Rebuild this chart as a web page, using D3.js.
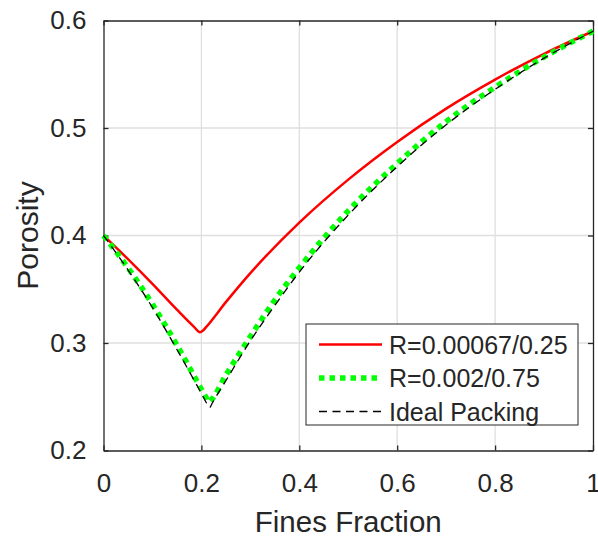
<!DOCTYPE html>
<html>
<head>
<meta charset="utf-8">
<script src="https://cdn.jsdelivr.net/npm/d3@7"></script>
<style>
  body { margin: 0; background: #fff; }
  svg { display: block; font-family: "Liberation Sans", Arial, Helvetica, sans-serif; }
</style>
</head>
<body>
<svg id="chart" width="598" height="537"></svg>
<script>
// values
const xTicks = [0, 0.2, 0.4, 0.6, 0.8, 1];
const yTicks = [0.2, 0.3, 0.4, 0.5, 0.6];

const redFines = [0, 0.05, 0.1, 0.15, 0.185, 0.197, 0.203, 0.21, 0.25, 0.3, 0.4, 0.5, 0.6, 0.7, 0.8, 0.9, 1];
const redPorosity = [0.400, 0.378, 0.355, 0.331, 0.315, 0.310, 0.3115, 0.315, 0.338, 0.365, 0.412, 0.452, 0.487, 0.518, 0.545, 0.569, 0.590];

const greenFines = [0, 0.05, 0.1, 0.15, 0.2, 0.21, 0.215, 0.222, 0.25, 0.3, 0.35, 0.4, 0.5, 0.6, 0.7, 0.8, 0.9, 1];
const greenPorosity = [0.400, 0.370, 0.336, 0.298, 0.257, 0.249, 0.245, 0.248, 0.270, 0.306, 0.340, 0.370, 0.423, 0.467, 0.506, 0.538, 0.566, 0.590];

const idealFines = [0, 0.05, 0.1, 0.15, 0.2, 0.212, 0.217, 0.222, 0.25, 0.3, 0.35, 0.4, 0.5, 0.6, 0.7, 0.8, 0.9, 1];
const idealPorosity = [0.400, 0.368, 0.333, 0.294, 0.253, 0.243, 0.240, 0.244, 0.265, 0.302, 0.335, 0.366, 0.419, 0.464, 0.503, 0.536, 0.565, 0.590];

const seriesNames = ['R=0.00067/0.25', 'R=0.002/0.75', 'Ideal Packing'];

const svg = d3.select('#chart');
const margin = { left: 103.5, right: 5, top: 20.5, bottom: 86.5 };
const width = 598 - margin.left - margin.right;
const height = 537 - margin.top - margin.bottom;
const ink = '#262626';

const g = svg.append('g').attr('transform', `translate(${margin.left},${margin.top})`);

const x = d3.scaleLinear().domain([0, 1]).range([0, width]);
const y = d3.scaleLinear().domain([0.2, 0.6]).range([height, 0]);

// grid
g.selectAll('.vgrid')
  .data(xTicks.slice(1, -1))
  .enter().append('line')
  .attr('x1', d => x(d)).attr('x2', d => x(d))
  .attr('y1', 0).attr('y2', height)
  .attr('stroke', '#dfdfdf').attr('stroke-width', 1.3);

g.selectAll('.hgrid')
  .data(yTicks.slice(1, -1))
  .enter().append('line')
  .attr('x1', 0).attr('x2', width)
  .attr('y1', d => y(d)).attr('y2', d => y(d))
  .attr('stroke', '#dfdfdf').attr('stroke-width', 1.3);

// axes, ticks pointing inward
const tickFmt = d => (d === 0 || d === 1) ? String(d) : d3.format('.1f')(d);

const styleAxis = sel => {
  sel.select('.domain').attr('stroke', ink).attr('stroke-width', 1.3);
  sel.selectAll('.tick line').attr('stroke', ink).attr('stroke-width', 1.3);
  sel.selectAll('.tick text').attr('fill', ink).style('font-size', '26px');
};

g.append('g')
  .attr('transform', `translate(0,${height})`)
  .call(d3.axisBottom(x).tickValues(xTicks).tickFormat(tickFmt).tickSizeInner(-5).tickSizeOuter(0).tickPadding(23))
  .call(styleAxis);

g.append('g')
  .call(d3.axisTop(x).tickValues(xTicks).tickFormat('').tickSizeInner(-5).tickSizeOuter(0))
  .call(styleAxis);

g.append('g')
  .call(d3.axisLeft(y).tickValues(yTicks).tickFormat(d3.format('.1f')).tickSizeInner(-5).tickSizeOuter(0).tickPadding(17))
  .call(styleAxis);

g.append('g')
  .attr('transform', `translate(${width},0)`)
  .call(d3.axisRight(y).tickValues(yTicks).tickFormat('').tickSizeInner(-5).tickSizeOuter(0))
  .call(styleAxis);

// curves
const line = d3.line()
  .x(d => x(d[0]))
  .y(d => y(d[1]))
  .curve(d3.curveMonotoneX);

const series = [
  { fines: redFines, porosity: redPorosity, color: '#ff0000', width: 2.5, dash: null },
  { fines: greenFines, porosity: greenPorosity, color: '#00ff00', width: 5.5, dash: '5.5,5' },
  { fines: idealFines, porosity: idealPorosity, color: '#000000', width: 1.3, dash: '8,5.5' }
];

series.forEach(s => {
  g.append('path')
    .datum(d3.zip(s.fines, s.porosity))
    .attr('fill', 'none')
    .attr('stroke', s.color)
    .attr('stroke-width', s.width)
    .attr('stroke-dasharray', s.dash)
    .attr('d', line);
});

// axis titles
svg.append('text')
  .attr('x', margin.left + width / 2)
  .attr('y', 531.5)
  .attr('text-anchor', 'middle')
  .attr('fill', ink)
  .style('font-size', '29.5px')
  .text('Fines Fraction');

svg.append('text')
  .attr('transform', `translate(38,${margin.top + height / 2}) rotate(-90)`)
  .attr('text-anchor', 'middle')
  .attr('fill', ink)
  .style('font-size', '30px')
  .text('Porosity');

// legend
const legend = svg.append('g').attr('transform', 'translate(306,324)');
legend.append('rect')
  .attr('width', 272).attr('height', 101)
  .attr('fill', '#fff')
  .attr('stroke', ink).attr('stroke-width', 1);

series.forEach((s, i) => {
  const ly = 20.5 + i * 33.5;
  legend.append('line')
    .attr('x1', 13).attr('x2', 76)
    .attr('y1', ly).attr('y2', ly)
    .attr('stroke', s.color)
    .attr('stroke-width', s.width)
    .attr('stroke-dasharray', s.dash);
  legend.append('text')
    .attr('x', 83)
    .attr('y', ly)
    .attr('dy', '0.36em')
    .attr('fill', ink)
    .style('font-size', '25px')
    .text(seriesNames[i]);
});
</script>
</body>
</html>
